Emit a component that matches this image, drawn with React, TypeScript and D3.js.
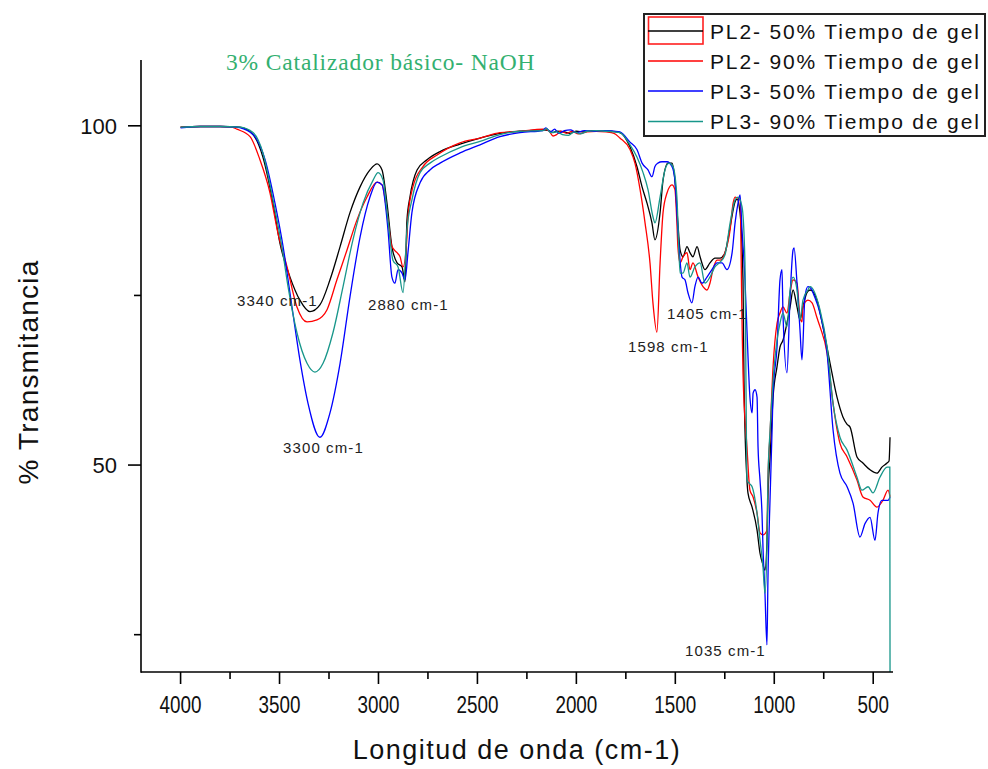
import React from 'react';
import * as d3 from 'd3';

type Pt = [number, number];

// wavenumber (cm-1), transmittance (%)
const pl2_50: Pt[] = [
  [4000, 99.8], [3900, 99.9], [3800, 99.9], [3700, 99.8], [3634, 98.7], [3584, 95.4], [3533, 88.6],
  [3498, 82.7], [3447, 77.7], [3397, 74.3], [3346, 72.6], [3296, 73.6], [3245, 77.3], [3194, 82.2],
  [3144, 87.2], [3093, 91.0], [3043, 93.5], [3007, 94.4], [2982, 93.5], [2957, 88.6], [2932, 82.2],
  [2906, 79.8], [2881, 79.2], [2866, 77.0], [2856, 86.1], [2841, 89.5], [2805, 93.5], [2755, 95.0],
  [2689, 96.2], [2588, 97.3], [2487, 98.2], [2386, 98.9], [2285, 99.2], [2169, 99.4], [2140, 99.3],
  [2118, 99.0], [2100, 99.2], [2060, 99.1], [2032, 98.9], [2000, 99.2], [1960, 99.1], [1920, 99.3],
  [1881, 99.3], [1830, 99.2], [1780, 99.0], [1729, 96.9], [1694, 94.0], [1668, 91.0], [1643, 88.6],
  [1618, 85.7], [1603, 83.2], [1577, 87.2], [1562, 92.0], [1537, 94.5], [1517, 94.5], [1502, 92.0],
  [1487, 85.7], [1476, 81.7], [1461, 80.7], [1441, 82.2], [1426, 81.3], [1411, 80.7], [1390, 82.2],
  [1375, 80.7], [1350, 78.8], [1325, 79.8], [1300, 80.5], [1274, 80.5], [1249, 81.3], [1223, 85.1],
  [1198, 88.8], [1188, 89.2], [1173, 87.2], [1158, 77.3], [1153, 62.5], [1138, 47.8], [1133, 45.9],
  [1112, 43.8], [1087, 40.4], [1072, 37.0], [1057, 35.3], [1047, 34.5], [1037, 38.5], [1032, 45.3],
  [1021, 51.2], [1006, 60.0], [986, 64.5], [971, 67.4], [956, 68.4], [936, 70.9], [920, 73.3],
  [905, 75.8], [885, 73.3], [870, 71.4], [855, 73.3], [835, 75.4], [819, 75.8], [784, 74.3],
  [754, 70.4], [718, 65.0], [683, 60.0], [653, 57.1], [632, 56.0], [617, 55.6], [582, 51.2],
  [552, 50.3], [516, 49.3], [481, 48.8], [456, 49.7], [430, 50.3], [420, 50.6], [415, 54.1],
];

const pl2_90: Pt[] = [
  [4000, 99.8], [3900, 99.9], [3800, 99.9], [3740, 99.8], [3715, 99.5], [3649, 98.4], [3599, 95.0],
  [3548, 90.1], [3508, 84.2], [3462, 79.2], [3412, 73.3], [3361, 71.1], [3311, 71.4], [3260, 72.9],
  [3210, 77.3], [3159, 81.7], [3109, 86.1], [3058, 89.5], [3007, 91.7], [2982, 91.3], [2957, 87.2],
  [2932, 82.2], [2906, 81.3], [2891, 80.7], [2876, 79.2], [2856, 83.6], [2851, 86.6], [2826, 91.0],
  [2775, 94.0], [2704, 95.7], [2588, 97.5], [2487, 98.2], [2386, 99.0], [2285, 99.2], [2169, 99.5],
  [2140, 99.3], [2118, 98.5], [2100, 98.7], [2080, 99.2], [2050, 98.9], [2020, 99.2], [1990, 98.8],
  [1946, 99.1], [1900, 99.2], [1850, 99.1], [1810, 98.9], [1780, 98.2], [1729, 96.5], [1704, 94.5],
  [1678, 90.6], [1653, 85.7], [1628, 79.8], [1613, 73.9], [1593, 69.6], [1577, 79.8], [1562, 87.2],
  [1542, 90.1], [1517, 91.3], [1502, 90.6], [1492, 85.7], [1487, 82.2], [1476, 79.8], [1461, 80.7],
  [1441, 81.3], [1426, 78.8], [1411, 79.8], [1385, 77.7], [1360, 76.3], [1340, 75.8], [1325, 76.8],
  [1310, 78.8], [1289, 80.2], [1274, 80.2], [1249, 81.3], [1223, 84.7], [1208, 88.6], [1198, 89.5],
  [1173, 89.1], [1163, 71.4], [1158, 63.6], [1138, 52.7], [1123, 46.3], [1107, 45.3], [1087, 42.9],
  [1072, 40.0], [1057, 39.7], [1037, 40.4], [1032, 47.8], [1021, 54.7], [1006, 64.5], [986, 70.9],
  [971, 72.4], [956, 73.3], [936, 72.4], [920, 75.4], [905, 77.3], [885, 76.8], [870, 71.8],
  [860, 71.1], [855, 73.3], [830, 74.3], [809, 73.9], [784, 71.7], [769, 70.4], [733, 66.5],
  [703, 59.1], [668, 53.2], [632, 51.2], [582, 47.8], [552, 45.3], [516, 44.8], [481, 43.8],
  [451, 44.8], [425, 46.3], [415, 45.3],
];

const pl3_50: Pt[] = [
  [4000, 99.7], [3900, 99.9], [3800, 99.9], [3720, 99.8], [3685, 99.6], [3624, 98.4], [3573, 95.0],
  [3523, 88.6], [3482, 82.2], [3437, 73.3], [3397, 65.5], [3356, 59.1], [3296, 54.1], [3245, 57.7],
  [3194, 65.0], [3144, 74.8], [3093, 83.6], [3043, 89.5], [3007, 91.7], [2982, 91.3], [2952, 84.7],
  [2932, 77.7], [2917, 76.8], [2901, 78.8], [2881, 78.3], [2866, 77.3], [2851, 81.3], [2831, 87.2],
  [2790, 91.6], [2740, 93.5], [2689, 94.5], [2588, 96.0], [2487, 97.2], [2386, 98.4], [2285, 99.0],
  [2169, 99.3], [2155, 99.7], [2130, 99.1], [2110, 99.5], [2090, 98.9], [2060, 99.3], [2030, 99.4],
  [2000, 99.0], [1960, 99.3], [1910, 99.2], [1850, 99.3], [1810, 99.2], [1780, 99.1], [1729, 97.6],
  [1694, 96.5], [1668, 94.5], [1638, 93.5], [1618, 92.5], [1603, 94.0], [1588, 94.5], [1567, 94.7],
  [1542, 94.7], [1517, 94.0], [1502, 92.0], [1487, 84.7], [1466, 77.7], [1451, 77.3], [1436, 75.4],
  [1416, 73.9], [1401, 76.3], [1385, 77.7], [1365, 76.8], [1340, 77.7], [1315, 78.8], [1289, 79.8],
  [1264, 79.8], [1239, 78.8], [1213, 81.3], [1198, 85.7], [1183, 88.6], [1173, 89.8], [1163, 84.7],
  [1148, 77.3], [1138, 69.9], [1123, 60.0], [1112, 57.7], [1107, 60.6], [1097, 61.1], [1087, 60.0],
  [1082, 52.7], [1072, 47.8], [1062, 42.9], [1057, 37.9], [1047, 31.1], [1037, 23.5], [1032, 33.0],
  [1021, 45.3], [1011, 55.2], [1006, 60.6], [986, 67.4], [971, 77.3], [961, 78.8], [956, 72.4],
  [936, 63.6], [920, 74.8], [905, 81.7], [900, 82.0], [885, 76.8], [870, 69.9], [860, 65.5],
  [845, 74.8], [830, 76.3], [809, 75.8], [804, 75.4], [769, 72.4], [733, 66.5], [703, 55.2],
  [668, 48.8], [632, 46.8], [602, 44.4], [567, 39.4], [541, 41.4], [516, 42.3], [491, 38.9],
  [476, 42.9], [456, 44.8], [425, 44.8], [415, 45.3],
];

const pl3_90: Pt[] = [
  [4000, 99.8], [3900, 99.9], [3800, 99.9], [3700, 99.8], [3634, 99.0], [3584, 96.0], [3533, 89.1],
  [3488, 82.2], [3457, 76.3], [3412, 69.5], [3361, 65.0], [3321, 63.7], [3280, 65.0], [3230, 69.5],
  [3179, 76.3], [3129, 83.2], [3078, 88.6], [3027, 92.0], [3002, 93.1], [2977, 92.0], [2952, 86.1],
  [2927, 80.2], [2901, 79.2], [2876, 75.4], [2856, 84.7], [2831, 89.1], [2790, 93.1], [2740, 94.5],
  [2689, 95.4], [2588, 96.8], [2487, 97.7], [2386, 98.7], [2285, 99.2], [2169, 99.3], [2150, 99.6],
  [2130, 99.0], [2100, 99.1], [2070, 98.7], [2040, 98.6], [2010, 99.1], [1980, 98.8], [1946, 99.2],
  [1900, 99.3], [1850, 99.2], [1810, 99.1], [1780, 99.0], [1729, 97.2], [1694, 95.4], [1663, 93.1],
  [1638, 90.6], [1613, 86.6], [1603, 85.7], [1577, 89.5], [1552, 93.5], [1532, 94.5], [1512, 94.0],
  [1492, 89.5], [1476, 78.3], [1461, 78.3], [1441, 79.8], [1426, 77.7], [1401, 79.2], [1375, 79.8],
  [1350, 76.8], [1325, 77.7], [1300, 79.2], [1274, 79.9], [1249, 81.0], [1223, 85.7], [1198, 89.1],
  [1183, 89.5], [1163, 88.1], [1148, 79.8], [1143, 62.5], [1138, 47.8], [1123, 47.2], [1112, 46.8],
  [1087, 42.9], [1072, 38.9], [1057, 35.0], [1047, 31.1], [1037, 37.9], [1032, 47.8], [1021, 55.2],
  [1006, 62.5], [986, 68.4], [971, 70.9], [956, 72.4], [936, 70.4], [920, 75.8], [905, 77.7],
  [885, 75.8], [870, 71.4], [855, 74.3], [830, 75.8], [819, 76.3], [769, 72.9], [733, 67.4],
  [703, 59.1], [668, 54.1], [632, 52.2], [582, 48.2], [557, 46.3], [526, 46.8], [501, 45.9],
  [466, 48.2], [430, 49.7], [416, 49.7], [415, 19.5],
];

const seriesNames = [
  'PL2- 50% Tiempo de gel',
  'PL2- 90% Tiempo de gel',
  'PL3- 50% Tiempo de gel',
  'PL3- 90% Tiempo de gel',
];
const seriesColors = ['#000000', '#ff0000', '#0000ff', '#17968a'];
const seriesData = [pl2_50, pl2_90, pl3_50, pl3_90];

const xMajorTicks = [4000, 3500, 3000, 2500, 2000, 1500, 1000, 500];
const xMinorTicks = [3750, 3250, 2750, 2250, 1750, 1250, 750];
const yMajorTicks = [100, 50];
const yMinorTicks = [75, 25];

const annotationTexts = ['3340 cm-1', '2880 cm-1', '3300 cm-1', '1598 cm-1', '1405 cm-1', '1035 cm-1'];
const annotationWn = [3715, 3053, 3482, 1739, 1542, 1451];
const annotationT = [73.5, 72.9, 51.8, 66.6, 71.5, 21.9];

const titleText = '3% Catalizador básico- NaOH';
const xTitle = 'Longitud de onda (cm-1)';
const yTitle = '% Transmitancia';

const SANS = "'Liberation Sans', Arial, sans-serif";

export default function App() {
  const W = 988;
  const H = 769;
  const left = 141;
  const right = 893;
  const top = 60;
  const bottom = 672;

  const x = d3.scaleLinear().domain([4200, 400]).range([left, right]);
  const y = d3.scaleLinear().domain([19.5, 109.7]).range([bottom, top]);
  const line = d3
    .line<Pt>()
    .x((d) => x(d[0]))
    .y((d) => y(d[1]))
    .curve(d3.curveMonotoneX);

  const legendX = 644;
  const legendY = 14;
  const rowY = [31, 61, 91, 121.5];

  return (
    <svg
      width={W}
      height={H}
      viewBox={`0 0 ${W} ${H}`}
      style={{ position: 'absolute', left: 0, top: 0, background: '#fff' }}
    >
      <rect x={0} y={0} width={W} height={H} fill="#fff" />

      {/* curves */}
      <g fill="none" strokeWidth={1.3} strokeLinejoin="miter">
        {seriesData.map((d, i) => (
          <path key={i} d={line(d) || ''} stroke={seriesColors[i]} />
        ))}
      </g>

      {/* axes */}
      <g stroke="#000" strokeWidth={1.6}>
        <line x1={left} y1={top} x2={left} y2={bottom + 0.8} />
        <line x1={left} y1={bottom} x2={right} y2={bottom} />
        {xMajorTicks.map((t) => (
          <line key={'xm' + t} x1={x(t)} x2={x(t)} y1={bottom} y2={bottom + 12} />
        ))}
        {xMinorTicks.map((t) => (
          <line key={'xn' + t} x1={x(t)} x2={x(t)} y1={bottom} y2={bottom + 7} />
        ))}
        {yMajorTicks.map((t) => (
          <line key={'ym' + t} x1={left - 13} x2={left} y1={y(t)} y2={y(t)} />
        ))}
        {yMinorTicks.map((t) => (
          <line key={'yn' + t} x1={left - 7} x2={left} y1={y(t)} y2={y(t)} />
        ))}
      </g>

      {/* tick labels */}
      <g fontFamily={SANS} fill="#111">
        {xMajorTicks.map((t) => (
          <text
            key={'xl' + t}
            transform={`translate(${x(t)},${bottom + 41}) scale(0.82,1)`}
            textAnchor="middle"
            fontSize={23}
          >
            {t}
          </text>
        ))}
        {yMajorTicks.map((t) => (
          <text key={'yl' + t} x={left - 24} y={y(t) + 8} textAnchor="end" fontSize={22}>
            {t}
          </text>
        ))}
      </g>

      {/* axis titles */}
      <text
        x={517}
        y={759}
        textAnchor="middle"
        fontFamily={SANS}
        fontSize={27}
        letterSpacing={1.5}
        fill="#111"
      >
        {xTitle}
      </text>
      <text
        transform={`translate(38,372) rotate(-90)`}
        textAnchor="middle"
        fontFamily={SANS}
        fontSize={28}
        letterSpacing={1.2}
        fill="#111"
      >
        {yTitle}
      </text>

      {/* chart title */}
      <text
        x={226}
        y={70}
        fontFamily="'Liberation Serif', 'Times New Roman', serif"
        fontSize={23.5}
        letterSpacing={0.85}
        fill="#33b070"
      >
        {titleText}
      </text>

      {/* annotations */}
      <g fontFamily={SANS} fontSize={15} letterSpacing={1.1} fill="#222">
        {annotationTexts.map((s, i) => (
          <text key={s} x={x(annotationWn[i])} y={y(annotationT[i])}>
            {s}
          </text>
        ))}
      </g>

      {/* legend */}
      <g>
        <rect
          x={legendX}
          y={legendY}
          width={341}
          height={122}
          fill="#fff"
          stroke="#222"
          strokeWidth={2}
        />
        <rect x={648.5} y={17} width={54.5} height={27} fill="none" stroke="#ff2020" strokeWidth={1.6} />
        {seriesNames.map((n, i) => (
          <g key={n}>
            <line x1={648} x2={703} y1={rowY[i]} y2={rowY[i]} stroke={seriesColors[i]} strokeWidth={1.6} />
            <text
              x={710}
              y={rowY[i] + 7.5}
              fontFamily={SANS}
              fontSize={21}
              letterSpacing={1.85}
              fill="#111"
            >
              {n}
            </text>
          </g>
        ))}
      </g>
    </svg>
  );
}
